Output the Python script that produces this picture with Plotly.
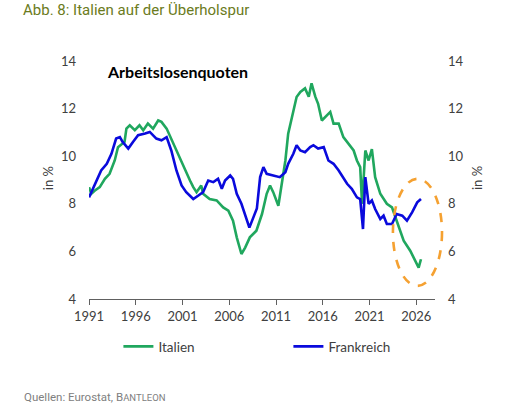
import plotly.graph_objects as go

# Italien (green) - unemployment rate
it_year = [1991.0, 1991.25, 1991.6, 1992.15, 1992.7, 1993.2, 1993.75, 1994.1, 1994.8, 1995.0,
           1995.36, 1995.9, 1996.4, 1996.8, 1997.3, 1997.85, 1998.4, 1998.75, 1999.3, 2000.0,
           2000.7, 2001.25, 2001.8, 2002.15, 2002.5, 2003.0, 2003.2, 2003.9, 2004.65, 2005.35,
           2005.9, 2006.4, 2006.8, 2007.3, 2007.7, 2008.2, 2008.9, 2009.5, 2010.0, 2010.36,
           2010.7, 2011.25, 2011.6, 2012.0, 2012.3, 2012.7, 2013.2, 2013.6, 2014.1, 2014.5,
           2014.8, 2015.2, 2015.5, 2015.9, 2016.25, 2016.8, 2017.15, 2017.7, 2018.2, 2018.75,
           2019.3, 2019.65, 2020.0, 2020.2, 2020.55, 2020.9, 2021.25, 2021.6, 2022.15, 2022.85,
           2023.4, 2023.9, 2024.65, 2025.35, 2025.9, 2026.25, 2026.5]
it_val = [8.7, 8.42, 8.55, 8.7, 9.05, 9.26, 9.82, 10.38, 10.6, 11.16,
          11.3, 11.09, 11.3, 11.09, 11.37, 11.16, 11.5, 11.44, 11.16, 10.53,
          9.96, 9.4, 8.98, 8.7, 8.49, 8.77, 8.42, 8.2, 8.14, 7.85,
          7.71, 7.29, 6.59, 5.89, 6.16, 6.59, 6.87, 7.57, 8.42, 8.77,
          8.49, 7.92, 8.84, 9.82, 10.95, 11.65, 12.49, 12.7, 12.85, 12.5,
          13.06, 12.5, 12.2, 11.5, 11.65, 11.86, 11.37, 11.37, 10.8, 10.53,
          10.24, 9.82, 9.54, 8.0, 10.24, 9.82, 10.3, 9.12, 8.42, 8.0,
          7.85, 7.29, 6.45, 6.03, 5.6, 5.32, 5.67]

# Frankreich (blue)
fr_year = [1991.0, 1991.8, 1992.3, 1992.9, 1993.4, 1993.9, 1994.3, 1994.6, 1995.2, 1995.7,
           1996.25, 1997.0, 1997.5, 1998.2, 1998.75, 1999.3, 1999.8, 2000.35, 2000.9, 2001.4,
           2002.15, 2002.7, 2003.2, 2003.75, 2004.3, 2004.8, 2005.2, 2005.55, 2006.1, 2006.4,
           2006.8, 2007.3, 2007.7, 2008.15, 2008.6, 2008.95, 2009.3, 2009.65, 2010.0, 2010.7,
           2011.4, 2012.0, 2012.3, 2012.85, 2013.2, 2013.6, 2014.1, 2014.65, 2015.0, 2015.5,
           2016.1, 2016.6, 2017.15, 2017.7, 2018.05, 2018.6, 2019.1, 2019.65, 2020.0, 2020.3,
           2020.55, 2020.9, 2021.25, 2021.6, 2022.15, 2022.5, 2022.85, 2023.4, 2023.9, 2024.5,
           2025.0, 2025.55, 2026.1, 2026.5]
fr_val = [8.27, 8.98, 9.4, 9.68, 10.1, 10.74, 10.8, 10.6, 10.32, 10.6,
          10.88, 10.95, 11.02, 10.74, 10.67, 10.8, 10.24, 9.4, 8.77, 8.49,
          8.2, 8.35, 8.49, 8.98, 8.91, 9.05, 8.63, 8.98, 9.19, 9.05,
          8.42, 8.0, 7.57, 7.0, 7.45, 7.8, 9.12, 9.54, 9.26, 9.19,
          9.12, 9.33, 9.68, 10.1, 10.46, 10.24, 10.17, 10.38, 10.46, 10.32,
          10.38, 9.82, 9.68, 9.4, 9.19, 8.84, 8.63, 8.27, 8.2, 6.94,
          9.12, 8.0, 8.14, 7.78, 7.36, 7.5, 7.15, 7.15, 7.57, 7.5,
          7.29, 7.64, 8.06, 8.2]

x_ticks = [1991, 1996, 2001, 2006, 2011, 2016, 2021, 2026]
y_ticks = [4, 6, 8, 10, 12, 14]
x_range = [1991, 2028]
y_range = [4, 14]

# highlight ellipse (data units)
ell_x = [2023.5, 2028.75]
ell_y = [4.55, 9.05]

GREEN = "#20A75E"
BLUE = "#0A0ADC"
TICK = "#404040"
FONT = "Lato"

fig = go.Figure()
fig.add_trace(go.Scatter(x=it_year, y=it_val, name="Italien", mode="lines",
                         line=dict(color=GREEN, width=2.6)))
fig.add_trace(go.Scatter(x=fr_year, y=fr_val, name="Frankreich", mode="lines",
                         line=dict(color=BLUE, width=2.6)))
# invisible trace for right axis
fig.add_trace(go.Scatter(x=[x_range[0]], y=[y_range[0]], yaxis="y2", mode="lines",
                         showlegend=False, hoverinfo="skip", line=dict(width=0)))

def px(v):
    return (v - x_range[0]) / (x_range[1] - x_range[0])

def py(v):
    return (v - y_range[0]) / (y_range[1] - y_range[0])

fig.add_shape(type="circle", xref="paper", yref="paper",
              x0=px(ell_x[0]), x1=px(ell_x[1]), y0=py(ell_y[0]), y1=py(ell_y[1]),
              line=dict(color="#F5A131", width=2.6, dash="dash"))

fig.update_layout(
    width=523, height=409,
    margin=dict(l=89, r=88, t=61, b=110),
    paper_bgcolor="white", plot_bgcolor="white",
    font=dict(family=FONT, size=13, color=TICK),
    xaxis=dict(range=x_range, tickvals=x_ticks, ticks="outside", ticklen=5,
               tickcolor="#606060", showline=True, linecolor="#606060", linewidth=1,
               showgrid=False, zeroline=False, tickfont=dict(size=13, color=TICK)),
    yaxis=dict(range=y_range, tickvals=y_ticks, showgrid=False, zeroline=False,
               showline=False, ticks="", ticklabelstandoff=12,
               tickfont=dict(size=13, color=TICK)),
    yaxis2=dict(range=y_range, tickvals=y_ticks, overlaying="y", side="right",
                showgrid=False, zeroline=False, showline=False, ticks="",
                ticklabelstandoff=12, tickfont=dict(size=13, color=TICK)),
    showlegend=True,
    legend=dict(orientation="h", x=0.085, xanchor="left", y=-0.2, yanchor="middle",
                font=dict(size=13.5, color=TICK), entrywidth=125, entrywidthmode="pixels",
                bgcolor="rgba(0,0,0,0)"),
)

fig.add_annotation(text="in %", xref="paper", yref="paper", x=-0.147, y=0.508,
                   textangle=-90, showarrow=False, font=dict(size=13, color=TICK))
fig.add_annotation(text="in %", xref="paper", yref="paper", x=1.15, y=0.508,
                   textangle=-90, showarrow=False, font=dict(size=13, color=TICK))
fig.add_annotation(text="<b>Arbeitslosenquoten</b>", xref="paper", yref="paper",
                   x=(105 - 89) / 346, y=(299 - 72) / 238, xanchor="left", yanchor="middle",
                   showarrow=False, font=dict(family=FONT, size=16, color="#000000"))
fig.add_annotation(text="Abb. 8: Italien auf der Überholspur", xref="paper", yref="paper",
                   x=(21 - 89) / 346, y=(299 - 10) / 238, xanchor="left", yanchor="middle",
                   showarrow=False,
                   font=dict(family="Roboto", size=15, weight=400, color="#6B7B21"))
fig.add_annotation(text="Quellen: Eurostat, B<span style='font-size:9.5px'>ANTLEON</span>",
                   xref="paper", yref="paper",
                   x=(22 - 89) / 346, y=(299 - 397) / 238, xanchor="left", yanchor="middle",
                   showarrow=False, font=dict(family="Roboto", size=11.5, color="#808080"))

fig.write_html("out.html", config={"displayModeBar": False},
               post_script="document.body.style.margin='0';")
